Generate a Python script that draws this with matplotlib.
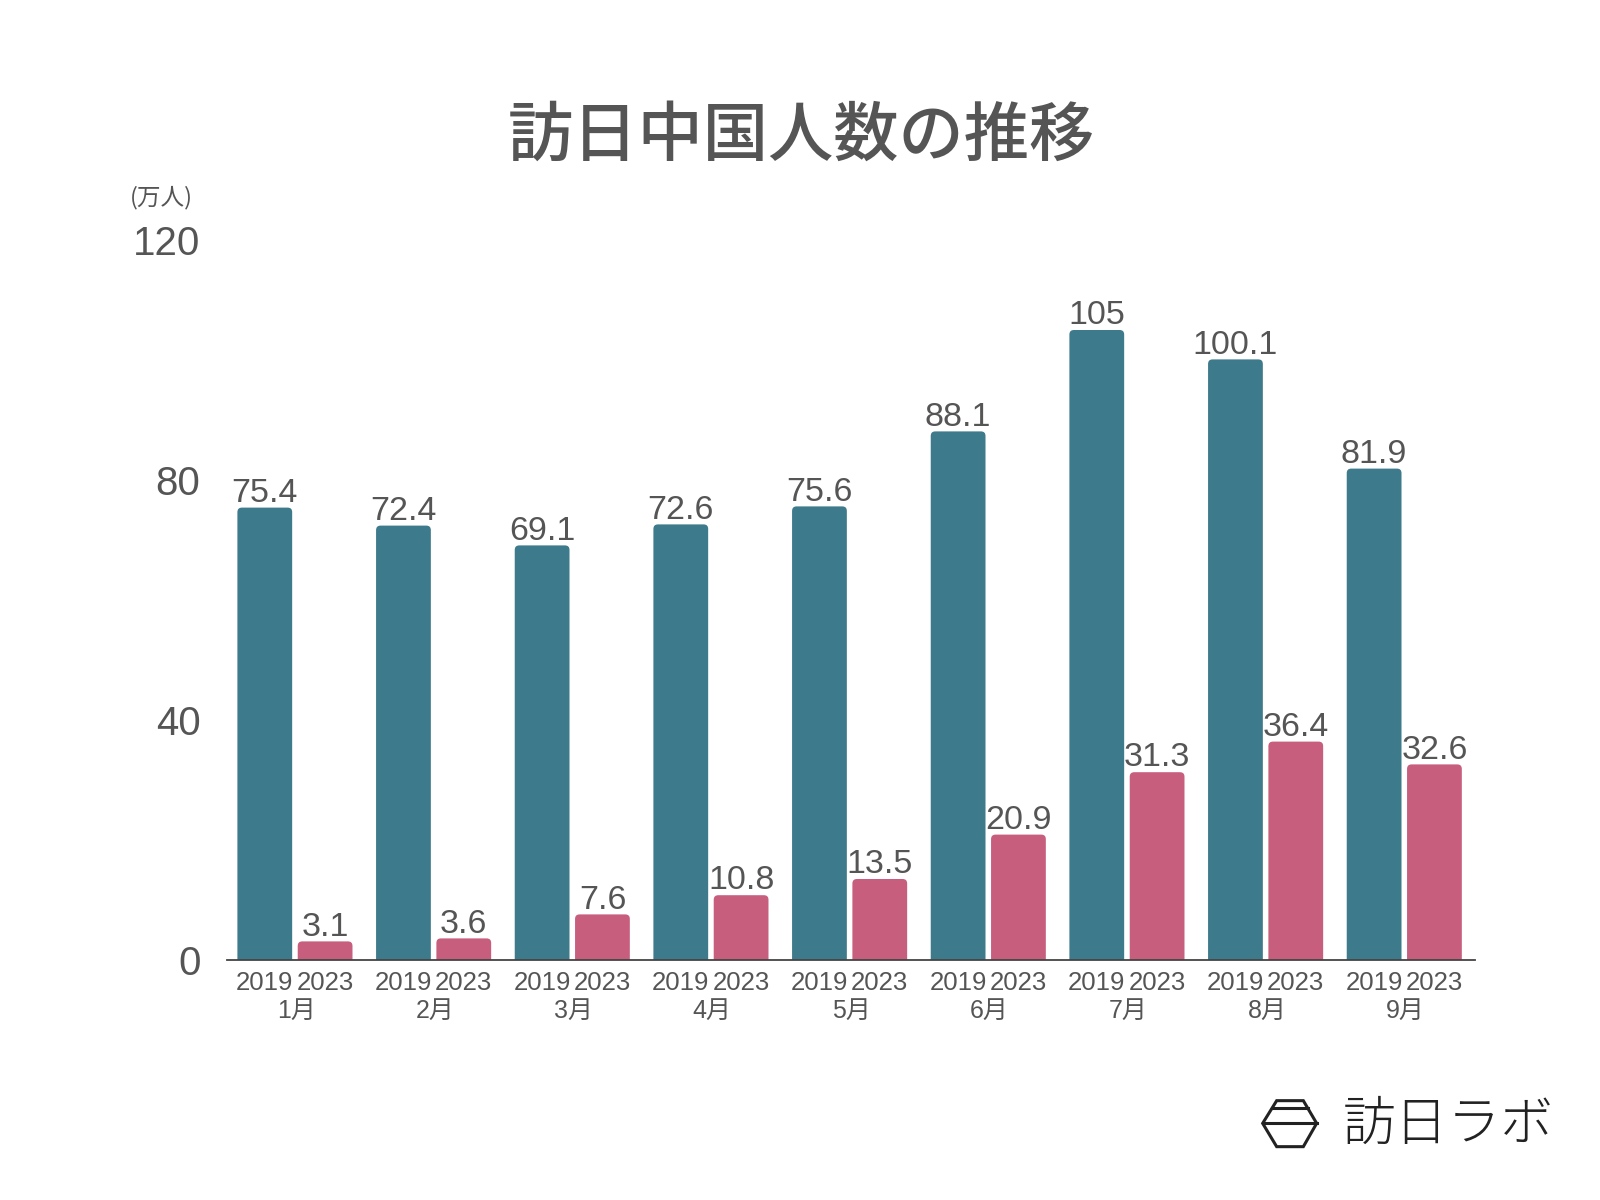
import matplotlib
matplotlib.use("Agg")
import matplotlib.pyplot as plt
from matplotlib.patches import FancyBboxPatch, Polygon
from matplotlib.lines import Line2D

plt.rcParams['font.family'] = ['Noto Sans CJK JP', 'DejaVu Sans']
NUMFONT = ['Liberation Sans', 'Noto Sans CJK JP', 'DejaVu Sans']

months = ["1月", "2月", "3月", "4月", "5月", "6月", "7月", "8月", "9月"]
years = ["2019", "2023"]
values_2019 = [75.4, 72.4, 69.1, 72.6, 75.6, 88.1, 105, 100.1, 81.9]
values_2023 = [3.1, 3.6, 7.6, 10.8, 13.5, 20.9, 31.3, 36.4, 32.6]
value_labels_2019 = ["75.4", "72.4", "69.1", "72.6", "75.6", "88.1", "105", "100.1", "81.9"]
value_labels_2023 = ["3.1", "3.6", "7.6", "10.8", "13.5", "20.9", "31.3", "36.4", "32.6"]
yticks = [0, 40, 80, 120]

BLUE = "#3d7a8c"
PINK = "#c75e7e"
GRAY = "#555555"

W, H = 1600, 1200
fig = plt.figure(figsize=(16, 12), dpi=100)
ax_l, ax_r = 227 / W, 1475 / W
ax = fig.add_axes([ax_l, 0.2, ax_r - ax_l, 0.6])
n = len(months)
ax.set_xlim(0, n)
ax.set_ylim(0, 120)

bw = 0.395
off_b = 0.075
off_p = 0.51
px_x = n / (ax_r - ax_l) / W      # data x per pixel
px_y = 120 / 720                  # data y per pixel
aspect = px_y / px_x
r = 4.5 * px_x

def rbar(x, h, color):
    p = FancyBboxPatch((x, -10), bw, h + 10,
                       boxstyle=f"round,pad=0,rounding_size={r}",
                       mutation_aspect=aspect, facecolor=color,
                       edgecolor="none", clip_on=True)
    ax.add_patch(p)

for i in range(n):
    xb = i + off_b
    xp = i + off_p
    rbar(xb, values_2019[i], BLUE)
    rbar(xp, values_2023[i], PINK)
    ax.text(xb + bw / 2, values_2019[i] - 0.2, value_labels_2019[i],
            ha="center", va="bottom", fontsize=24.5, color=GRAY, clip_on=False,
            family=NUMFONT)
    ax.text(xp + bw / 2, values_2023[i] - 0.2, value_labels_2023[i],
            ha="center", va="bottom", fontsize=24.5, color=GRAY, clip_on=False,
            family=NUMFONT)
    ax.text(xb + bw / 2, -3.8, years[0], ha="center", va="center",
            fontsize=18.5, color=GRAY, clip_on=False, family=NUMFONT)
    ax.text(xp + bw / 2, -3.8, years[1], ha="center", va="center",
            fontsize=18.5, color=GRAY, clip_on=False, family=NUMFONT)
    ax.text(i + 0.5, -8.4, months[i], ha="center", va="center",
            fontsize=18, color=GRAY, clip_on=False, family=NUMFONT)

ax.set_xticks([])
ax.set_yticks(yticks)
ax.set_yticklabels([str(t) for t in yticks], fontsize=29, color=GRAY,
                   family=NUMFONT)
ax.tick_params(axis="y", length=0, pad=19)
for s in ["top", "right", "left"]:
    ax.spines[s].set_visible(False)
ax.spines["bottom"].set_color("#444444")
ax.spines["bottom"].set_linewidth(1.3)

fig.text(801 / W, 1 - 137 / H, "訪日中国人数の推移", ha="center", va="center",
         fontsize=47, color=GRAY, fontweight="medium")
fig.text(161 / W, 1 - 198 / H, "(万人)", ha="center", va="center",
         fontsize=17, color=GRAY)

# logo
def fx(X):
    return (1250 + X / 3) / W

def fy(Y):
    return 1 - (1080 + Y / 3) / H

hexpts = [(38, 130), (80, 62), (160, 62), (200, 130), (160, 200), (80, 200)]
fig.patches.append(Polygon([(fx(a), fy(b)) for a, b in hexpts], closed=True,
                           transform=fig.transFigure, fill=False,
                           edgecolor="#222222", linewidth=2.2))
fig.lines.append(Line2D([fx(66), fx(174)], [fy(85), fy(85)],
                        transform=fig.transFigure, color="#222222", linewidth=2.2))
fig.lines.append(Line2D([fx(38), fx(200)], [fy(130), fy(130)],
                        transform=fig.transFigure, color="#222222", linewidth=2.2))
fig.text(1448 / W, 1 - 1125 / H, "訪日ラボ", ha="center", va="center",
         fontsize=38, color="#222222", fontweight="light")

fig.savefig("out.png", dpi=100, facecolor="white")
